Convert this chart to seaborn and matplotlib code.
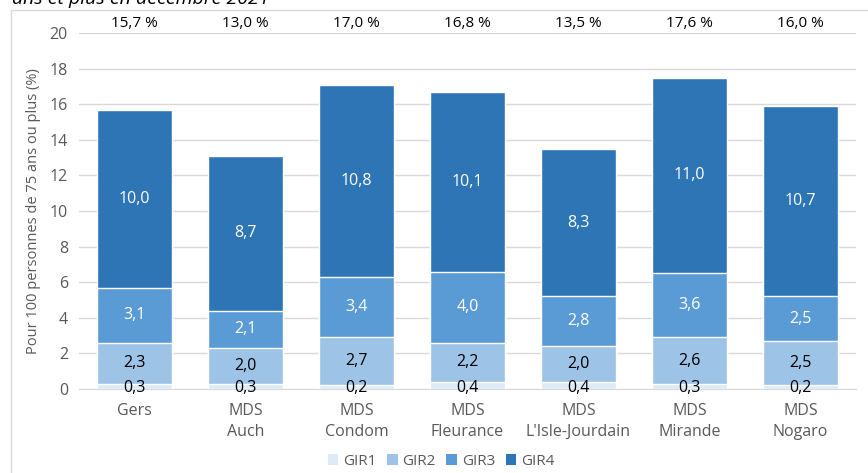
import numpy as np
import pandas as pd
import matplotlib
matplotlib.use("Agg")
import matplotlib.pyplot as plt
import seaborn as sns
from matplotlib.patches import Rectangle, Patch

categories = ["Gers", "MDS\nAuch", "MDS\nCondom", "MDS\nFleurance",
              "MDS\nL'Isle-Jourdain", "MDS\nMirande", "MDS\nNogaro"]
gir1 = [0.3, 0.3, 0.2, 0.4, 0.4, 0.3, 0.2]
gir2 = [2.3, 2.0, 2.7, 2.2, 2.0, 2.6, 2.5]
gir3 = [3.1, 2.1, 3.4, 4.0, 2.8, 3.6, 2.5]
gir4 = [10.0, 8.7, 10.8, 10.1, 8.3, 11.0, 10.7]
totals = ["15,7 %", "13,0 %", "17,0 %", "16,8 %", "13,5 %", "17,6 %", "16,0 %"]

series = ["GIR1", "GIR2", "GIR3", "GIR4"]
colors = ["#DDEBF7", "#9DC3E6", "#5B9BD5", "#2E75B6"]
text_colors = ["#000000", "#000000", "#FFFFFF", "#FFFFFF"]

sns.set_style("white")
plt.rcParams["font.family"] = ["Open Sans", "DejaVu Sans"]

df = pd.DataFrame({"cat": categories, "GIR1": gir1, "GIR2": gir2,
                   "GIR3": gir3, "GIR4": gir4})
cum = df[series].cumsum(axis=1)

fig = plt.figure(figsize=(8.68, 4.73), dpi=100)
ax = fig.add_axes([0.091, 0.1776, 0.895, 0.7524])

# draw from the top layer down so each shorter bar covers the one behind
for s, c in reversed(list(zip(series, colors))):
    sns.barplot(x=df["cat"], y=cum[s], color=c, width=0.68, ax=ax,
                saturation=1, zorder=3)

for i in range(len(categories)):
    base = 0
    for s, tc in zip(series, text_colors):
        v = df.loc[i, s]
        yc = base + v / 2
        if s == "GIR1":
            yc = 0.05
        ax.text(i, yc, f"{v:.1f}".replace(".", ","), ha="center", va="center",
                color=tc, fontsize=11.5, zorder=5)
        base += v
    ax.text(i, 20.35, totals[i], ha="center", va="baseline", fontsize=11,
            color="#000000")

ax.set_ylim(0, 20)
ax.set_xlim(-0.5, 6.5)
ax.set_yticks(np.arange(0, 21, 2))
ax.yaxis.grid(True, color="#D9D9D9", linewidth=1, zorder=0)
ax.set_axisbelow(True)
for sp in ["top", "right", "left"]:
    ax.spines[sp].set_visible(False)
ax.spines["bottom"].set_color("#D9D9D9")
ax.tick_params(axis="y", length=0, labelsize=11.5, colors="#595959", pad=8)
ax.tick_params(axis="x", length=0, labelsize=11.5, colors="#595959", pad=10)
for lab in ax.get_xticklabels():
    lab.set_linespacing(1.45)
ax.set_xlabel("")
ax.set_ylabel("Pour 100 personnes de 75 ans ou plus (%)", fontsize=10.5,
              color="#595959", labelpad=6)

handles = [Patch(facecolor=c, edgecolor="none") for c in colors]
fig.legend(handles, series, loc="center", bbox_to_anchor=(0.508, 0.024), ncol=4,
           frameon=False, fontsize=11, handlelength=0.7, handleheight=0.7,
           handletextpad=0.3, columnspacing=0.7, labelcolor="#595959")

fig.patches.append(Rectangle((11 / 868, -0.1), 1.0, 1 - 10 / 473 + 0.1,
                             transform=fig.transFigure, fill=False,
                             edgecolor="#D9D9D9", linewidth=1))
fig.text(12 / 868, 1 - 4 / 473, "ans et plus en décembre 2021", fontsize=14,
         style="italic", va="baseline", ha="left", color="#000000")

fig.savefig("out.png", dpi=100)
